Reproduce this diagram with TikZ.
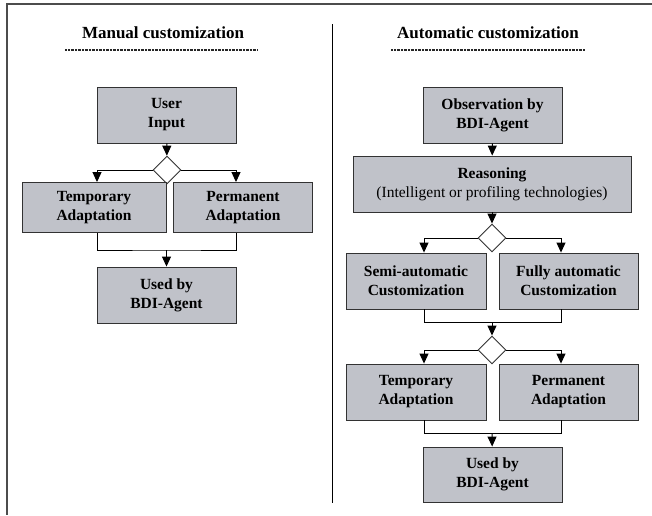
\documentclass[tikz,border=0pt]{standalone}
\usepackage{fontspec}
\setmainfont{Liberation Serif}
\usetikzlibrary{arrows.meta,shapes.geometric}
\definecolor{boxfill}{RGB}{192,194,201}
\definecolor{boxline}{RGB}{50,50,50}
\tikzset{
  box/.style={draw=boxline,line width=0.9pt,fill=boxfill,rectangle,align=center,inner sep=0pt,font=\fontsize{15.5}{19}\selectfont\bfseries},
  dec/.style={draw=boxline,line width=0.9pt,fill=white,diamond,minimum width=28pt,minimum height=28pt,inner sep=0pt},
  conn/.style={draw=black,line width=1pt},
  arr/.style={conn,-{Triangle[width=9pt,length=10pt]}},
  title/.style={font=\fontsize{17}{20}\selectfont\bfseries,inner sep=0pt},
  uline/.style={line width=2pt,dash pattern=on 0.7pt off 0.7pt,black!85},
  frame/.style={line width=1.6pt,black!70},
}
\begin{document}
\begin{tikzpicture}[x=1pt,y=-1pt]
\useasboundingbox (0,0) rectangle (652,515);
% frame
\coordinate (ftr) at (652,4);
\coordinate (ftl) at (7,4);
\coordinate (fbl) at (7,515);
\draw[frame] (ftr) -- (ftl) -- (fbl);
\coordinate (dvt) at (332,24);
\coordinate (dvb) at (332,503);
\draw[line width=1pt,black] (dvt) -- (dvb);
% titles
\node[title] (t1) at (163,33) {Manual customization};
\node[title] (t2) at (488,33) {Automatic customization};
\coordinate (u1a) at (65,50); \coordinate (u1b) at (258,50);
\coordinate (u2a) at (391,50); \coordinate (u2b) at (585,50);
\draw[uline] (u1a) -- (u1b);
\draw[uline] (u2a) -- (u2b);
% left column
\node[box,minimum width=139pt,minimum height=56pt] (ui) at (166.5,115) {User\\Input};
\node[dec] (d1) at (167,170) {};
\node[box,minimum width=144pt,minimum height=50pt] (ta1) at (94,207.5) {Temporary\\Adaptation};
\node[box,minimum width=139pt,minimum height=50pt] (pa1) at (243,207.5) {Permanent\\Adaptation};
\node[box,minimum width=139pt,minimum height=56pt] (ub1) at (166.5,295) {Used by\\BDI-Agent};
\draw[arr] (ui) -- (d1);
\draw[arr] (d1.west) -| (97,0 |- ta1.north);
\draw[arr] (d1.east) -| (236,0 |- pa1.north);
\coordinate (m1) at (166.5,250);
\draw[conn] (97,0 |- ta1.south) |- (m1) -| (236,0 |- pa1.south);
\draw[arr] (m1) -- (ub1);
% right column
\node[box,minimum width=139pt,minimum height=56pt] (ob) at (492.5,115) {Observation by\\BDI-Agent};
\node[box,minimum width=278pt,minimum height=56pt] (re) at (492,184) {Reasoning\\{\mdseries (Intelligent or profiling technologies)}};
\node[dec] (d2) at (492,238) {};
\node[box,minimum width=140pt,minimum height=56pt] (sa) at (416,281) {Semi-automatic\\Customization};
\node[box,minimum width=139pt,minimum height=56pt] (fa) at (568.5,281) {Fully automatic\\Customization};
\node[dec] (d3) at (492,350) {};
\node[box,minimum width=140pt,minimum height=56pt] (ta2) at (416,392) {Temporary\\Adaptation};
\node[box,minimum width=139pt,minimum height=56pt] (pa2) at (568.5,392) {Permanent\\Adaptation};
\node[box,minimum width=139pt,minimum height=55pt] (ub2) at (492.5,474.5) {Used by\\BDI-Agent};
\draw[arr] (ob) -- (re);
\draw[arr] (re) -- (d2);
\draw[arr] (d2.west) -| (424,0 |- sa.north);
\draw[arr] (d2.east) -| (561,0 |- fa.north);
\coordinate (m2) at (492,322);
\draw[conn] (424,0 |- sa.south) |- (m2) -| (561,0 |- fa.south);
\draw[arr] (m2) -- (d3);
\draw[arr] (d3.west) -| (424,0 |- ta2.north);
\draw[arr] (d3.east) -| (561,0 |- pa2.north);
\coordinate (m3) at (492,433);
\draw[conn] (424,0 |- ta2.south) |- (m3) -| (561,0 |- pa2.south);
\draw[arr] (m3) -- (ub2);
\end{tikzpicture}
\end{document}
